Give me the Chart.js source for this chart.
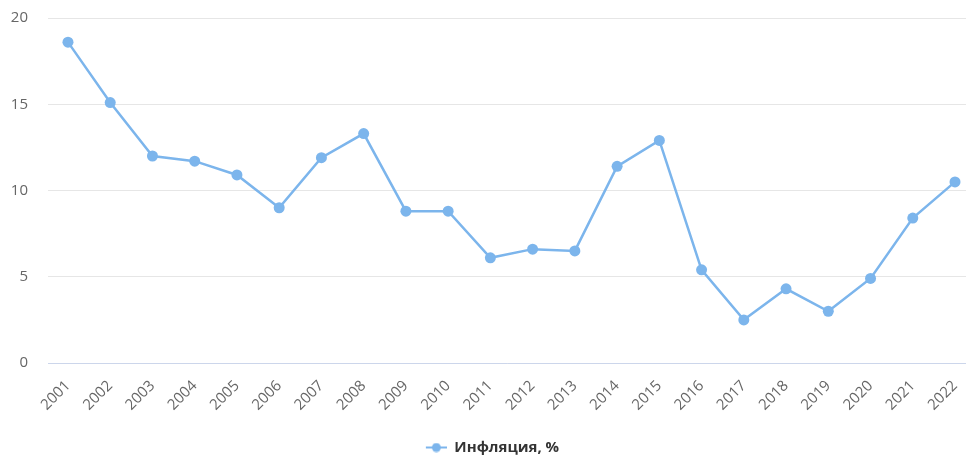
<!DOCTYPE html>
<html>
<head>
<meta charset="utf-8">
<script src="https://cdn.jsdelivr.net/npm/chart.js@4/dist/chart.umd.min.js"></script>
<style>
  html, body { margin: 0; padding: 0; background: #fff; }
  #wrap { width: 966px; height: 456px; }
</style>
</head>
<body>
<div id="wrap"><canvas id="chart"></canvas></div>
<script>
const years = [2001, 2002, 2003, 2004, 2005, 2006, 2007, 2008, 2009, 2010, 2011,
  2012, 2013, 2014, 2015, 2016, 2017, 2018, 2019, 2020, 2021, 2022];
const inflation = [18.6, 15.1, 12.0, 11.7, 10.9, 9.0, 11.9, 13.3, 8.8, 8.8, 6.1,
  6.6, 6.5, 11.4, 12.9, 5.4, 2.5, 4.3, 3.0, 4.9, 8.4, 10.5];
const yTicks = [0, 5, 10, 15, 20];
const seriesName = "Инфляция, %";

const lineColor = "#7cb5ec";
const fontFamily = "'Open Sans', 'DejaVu Sans', sans-serif";

// legend marker: short line with a dot, blank space on the left nudges the legend right
const markerBlank = 19;
const markerLen = 21;
function legendMarker() {
  const c = document.createElement("canvas");
  c.width = markerBlank + markerLen; c.height = 10;
  const g = c.getContext("2d");
  g.strokeStyle = lineColor;
  g.lineWidth = 2;
  g.beginPath(); g.moveTo(markerBlank, 5); g.lineTo(markerBlank + markerLen, 5); g.stroke();
  g.fillStyle = lineColor;
  g.beginPath(); g.arc(markerBlank + markerLen / 2, 5, 4.5, 0, Math.PI * 2); g.fill();
  return c;
}

new Chart(document.getElementById("chart"), {
  type: "line",
  data: {
    datasets: [{
      label: seriesName,
      data: years.map((y, i) => ({ x: y, y: inflation[i] })),
      borderColor: lineColor,
      backgroundColor: lineColor,
      borderWidth: 2.5,
      pointRadius: 5.5,
      pointBorderWidth: 0,
      pointBackgroundColor: lineColor,
      pointStyle: "circle",
      tension: 0
    }]
  },
  options: {
    responsive: true,
    maintainAspectRatio: false,
    animation: false,
    layout: { autoPadding: false, padding: { top: 18, right: 0, left: 0, bottom: -9 } },
    plugins: {
      tooltip: { enabled: false },
      legend: {
        position: "bottom",
        labels: {
          usePointStyle: true,
          pointStyle: legendMarker(),
          pointStyleWidth: markerBlank + markerLen,
          color: "#333",
          padding: 8,
          font: { family: fontFamily, size: 15, weight: "bold" }
        }
      }
    },
    scales: {
      x: {
        type: "linear",
        min: 2000.527,
        max: 2022.26,
        grid: { display: false, drawTicks: false },
        border: { display: true, color: "#ccd6eb", width: 1 },
        afterBuildTicks: s => { s.ticks = years.map(v => ({ value: v })); },
        afterFit: s => { s.height = 69; s.paddingRight = 0; s.paddingLeft = 0; },
        ticks: {
          autoSkip: false,
          minRotation: 45,
          maxRotation: 45,
          padding: 14,
          color: "#666",
          font: { family: fontFamily, size: 15 },
          callback: v => String(v)
        }
      },
      y: {
        min: 0,
        max: 20,
        afterBuildTicks: s => { s.ticks = yTicks.map(v => ({ value: v })); },
        afterFit: s => { s.width = 48; s.paddingTop = 0; s.paddingBottom = 0; },
        grid: { color: "#e6e6e6", lineWidth: 1, drawTicks: false },
        border: { display: false },
        ticks: {
          padding: 20,
          color: "#666",
          font: { family: fontFamily, size: 15 }
        }
      }
    }
  }
});
</script>
</body>
</html>
